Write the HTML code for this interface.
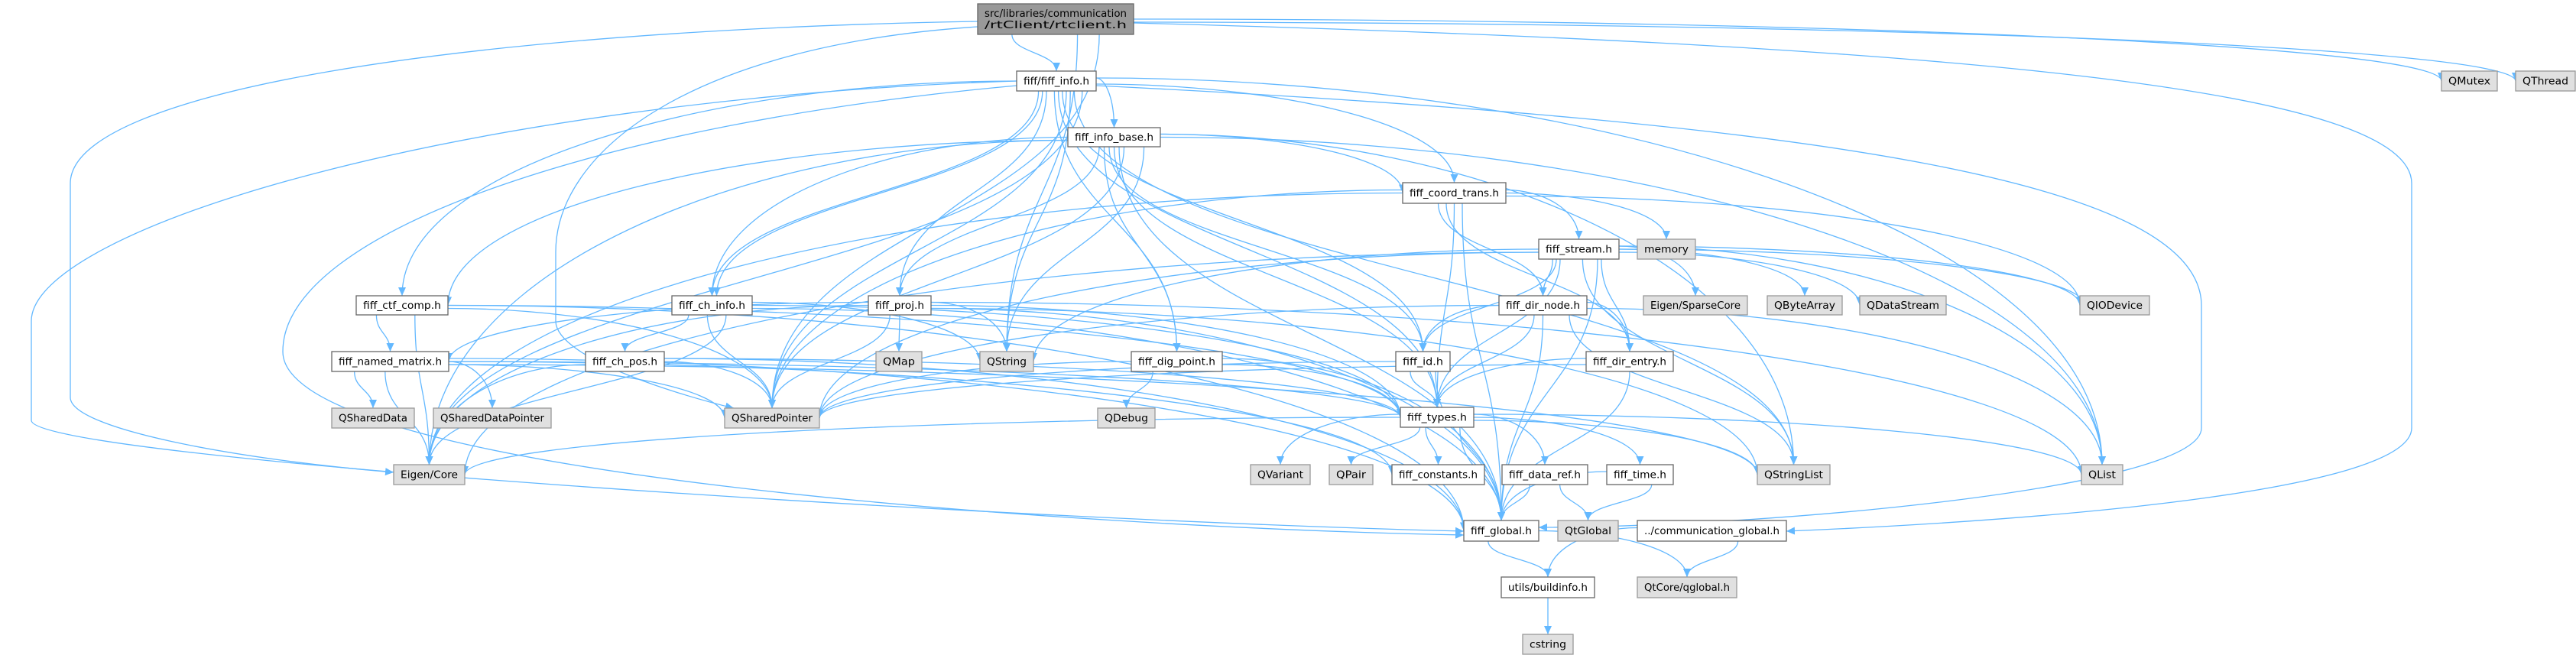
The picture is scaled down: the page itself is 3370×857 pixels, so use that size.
<!DOCTYPE html>
<html><head><meta charset="utf-8">
<style>
html,body{margin:0;padding:0;background:#fff;}
svg{display:block;}
text{font-family:"DejaVu Sans","Liberation Sans",sans-serif;font-size:13px;fill:#000;}
</style></head>
<body>
<svg id="g" xmlns="http://www.w3.org/2000/svg" width="3370" height="857" viewBox="0 0 3370 857">
<defs>
<marker id="a" markerUnits="userSpaceOnUse" markerWidth="12" markerHeight="10" refX="11" refY="5" orient="auto">
<path d="M0,0 L11,5 L0,10 Z" fill="#63b8ff"/>
</marker>
</defs>
<g id="edges" fill="none" stroke="#63b8ff" stroke-width="1.3"></g>
<g id="nodes"></g>
</svg>
<script>
var N={
 rt:[1279,5,1483,45,["src/libraries/communication","/rtClient/rtclient.h"],2],
 info:[1330,93,1434,119,["fiff/fiff_info.h"],0],
 base:[1397,167,1518,192,["fiff_info_base.h"],0],
 qmutex:[3194,93,3267,119,["QMutex"],1],
 qthread:[3291,93,3369,119,["QThread"],1],
 coord:[1835,239,1970,266,["fiff_coord_trans.h"],0],
 stream:[2013,313,2118,339,["fiff_stream.h"],0],
 memory:[2142,313,2218,339,["memory"],1],
 ctf:[466,387,586,412,["fiff_ctf_comp.h"],0],
 chinfo:[879,387,984,412,["fiff_ch_info.h"],0],
 proj:[1136,387,1218,412,["fiff_proj.h"],0],
 dirnode:[1961,387,2076,412,["fiff_dir_node.h"],0],
 sparse:[2150,387,2286,412,["Eigen/SparseCore"],1],
 qba:[2312,387,2410,412,["QByteArray"],1],
 qds:[2433,387,2546,412,["QDataStream"],1],
 qio:[2721,387,2812,412,["QIODevice"],1],
 named:[434,460,587,486,["fiff_named_matrix.h"],0],
 chpos:[766,460,869,486,["fiff_ch_pos.h"],0],
 qmap:[1146,460,1206,486,["QMap"],1],
 qstring:[1282,460,1352,486,["QString"],1],
 dig:[1480,460,1599,486,["fiff_dig_point.h"],0],
 id:[1826,460,1897,486,["fiff_id.h"],0],
 direntry:[2075,460,2189,486,["fiff_dir_entry.h"],0],
 qsd:[434,534,542,560,["QSharedData"],1],
 qsdp:[567,534,721,560,["QSharedDataPointer"],1],
 qsp:[948,534,1072,560,["QSharedPointer"],1],
 qdebug:[1436,534,1511,560,["QDebug"],1],
 types:[1832,533,1928,559,["fiff_types.h"],0],
 eigen:[515,608,608,634,["Eigen/Core"],1],
 qvar:[1636,608,1714,634,["QVariant"],1],
 qpair:[1739,608,1796,634,["QPair"],1],
 consts:[1821,608,1942,634,["fiff_constants.h"],0],
 dataref:[1965,608,2077,634,["fiff_data_ref.h"],0],
 time:[2102,608,2189,634,["fiff_time.h"],0],
 qsl:[2299,608,2394,634,["QStringList"],1],
 qlist:[2723,608,2777,634,["QList"],1],
 glob:[1915,681,2013,708,["fiff_global.h"],0],
 qtglob:[2038,681,2117,708,["QtGlobal"],1],
 comm:[2142,681,2337,708,["../communication_global.h"],0],
 build:[1964,755,2086,782,["utils/buildinfo.h"],0],
 qglobal:[2142,755,2272,782,["QtCore/qglobal.h"],1],
 cstring:[1992,830,2058,856,["cstring"],1]
};
var E={
 rt:["info","qmutex","qthread","qstring","qsp"],
 info:["base","ctf","chinfo","chinfo","proj","coord","dig","types","id","qsp","qstring","qsl","qlist","eigen"],
 base:["coord","chinfo","ctf","proj","dig","id","types","glob","qsp","qsl","qlist","eigen","qstring"],
 coord:["stream","memory","dirnode","direntry","types","glob","qsp","eigen","qio"],
 stream:["dirnode","id","types","sparse","qba","qds","qio","qio","qsl","qlist","qstring","qsp","glob","direntry","eigen"],
 dirnode:["direntry","id","types","glob","qsp","qlist","qsl"],
 direntry:["types","glob","qsp"],
 id:["types","qsp","glob"],
 ctf:["named","types","qsp","eigen","glob"],
 chinfo:["chpos","types","qsp","qstring","eigen","glob"],
 proj:["named","types","qsp","qstring","qmap","qsl","qlist","eigen","glob"],
 named:["qsd","qsdp","qsp","eigen","types","qsl","glob","consts"],
 chpos:["types","qsp","eigen","glob"],
 dig:["qdebug","qsp","types","glob"],
 types:["qvar","qpair","consts","dataref","time","qsl","qlist","eigen","glob"],
 dataref:["glob","qtglob"],
 time:["glob","qtglob"],
 glob:["build","qglobal"],
 comm:["build","qglobal"],
 build:["cstring"]
};
var eg=document.getElementById('edges'),ng=document.getElementById('nodes'),S="http://www.w3.org/2000/svg";
function P(d){var p=document.createElementNS(S,'path');p.setAttribute('d',d);p.setAttribute('marker-end','url(#a)');eg.appendChild(p);}
var cnt={};
for(var s in E){E[s].forEach(function(t,i){
 var a=N[s],b=N[t];
 var sx=(a[0]+a[2])/2,sy=a[3],tx=(b[0]+b[2])/2,ty=b[1];
 var k=s+t;cnt[k]=(cnt[k]||0)+1;var off=(cnt[k]-1)*6;
 var n=E[s].length;var spread=(a[2]-a[0])*0.7;
 sx=a[0]+(a[2]-a[0])*0.15+spread*(i+0.5)/n;
 var side=false;
 if(tx<a[0]&&Math.abs(tx-sx)>2*(ty-sy)){sx=a[0];sy=(a[1]+a[3])/2+(i%3-1)*4;side=true;}
 else if(tx>a[2]&&Math.abs(tx-sx)>2*(ty-sy)){sx=a[2];sy=(a[1]+a[3])/2+(i%3-1)*4;side=true;}
 if(ty<=sy+5){
   ty=(b[1]+b[3])/2; tx=tx>sx?b[0]:b[2];
 } else if(Math.abs(tx-sx)>4*(ty-sy)){ ty=(b[1]+b[3])/2; tx=tx>sx?b[0]:b[2]; }
 tx+=off;
 var my=(sy+ty)/2;
 if(side){P("M"+sx+","+sy+" C"+((sx+tx)/2)+","+sy+" "+tx+","+(sy+(ty-sy)*0.4)+" "+tx+","+ty);}
 else P("M"+sx+","+sy+" C"+sx+","+my+" "+tx+","+my+" "+tx+","+ty);
});}
P("M1279,28 C600,40 92,120 92,240 L92,520 C92,560 300,600 515,618");
P("M1330,106 C600,130 41,300 41,420 L41,550 C41,600 1300,680 1915,695");
P("M1483,30 C2600,60 3155,120 3155,240 L3155,560 C3155,640 2700,680 2337,695");
P("M1279,35 C900,60 727,200 727,330 L727,420 C727,470 900,520 960,534");
P("M1330,112 C800,160 370,300 370,460 C370,620 1400,690 1915,700");
P("M1434,112 C2400,160 2880,240 2880,400 L2880,560 C2880,640 2300,690 2013,690");
for(var id in N){var n=N[id];
 var r=document.createElementNS(S,'rect');
 r.setAttribute('x',n[0]);r.setAttribute('y',n[1]);r.setAttribute('width',n[2]-n[0]);r.setAttribute('height',n[3]-n[1]);
 r.setAttribute('fill',n[5]==2?'#999999':n[5]==1?'#e0e0e0':'#ffffff');
 r.setAttribute('stroke',n[5]==1?'#999999':'#666666');r.setAttribute('stroke-width','1.3');
 ng.appendChild(r);
 var L=n[4];
 L.forEach(function(s,j){var t=document.createElementNS(S,'text');
  t.setAttribute('x',(n[0]+n[2])/2);t.setAttribute('text-anchor','middle');
  var cy=(n[1]+n[3])/2+(j-(L.length-1)/2)*15;
  t.setAttribute('y',cy+4.5);t.textContent=s;
  t.setAttribute('textLength',Math.max(10,(n[2]-n[0])-18));t.setAttribute('lengthAdjust','spacingAndGlyphs');
  ng.appendChild(t);});
}
</script>
</body></html>
